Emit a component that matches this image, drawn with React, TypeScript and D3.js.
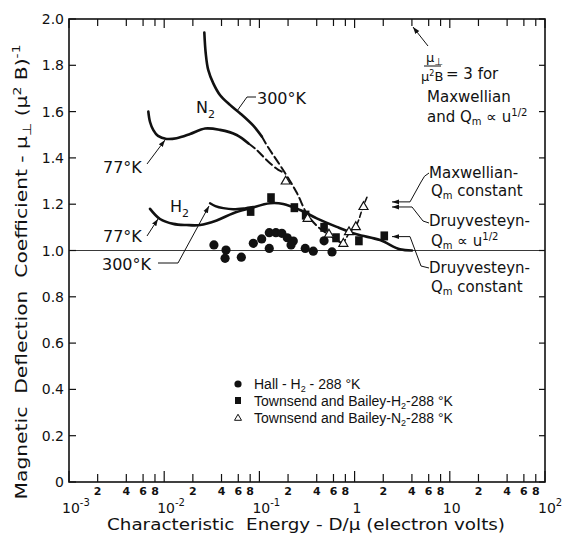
import React from 'react';
import * as d3 from 'd3';

// ---------- data ----------
const yTickValues = [0, 0.2, 0.4, 0.6, 0.8, 1.0, 1.2, 1.4, 1.6, 1.8, 2.0];
const yTickLabels = ['0', '0.2', '0.4', '0.6', '0.8', '1.0', '1.2', '1.4', '1.6', '1.8', '2.0'];
const decades = [1e-3, 1e-2, 1e-1, 1, 10, 100];
const decadeBase = ['10', '10', '10', '1', '10', '10'];
const decadeExp = ['-3', '-2', '-1', '', '', '2'];
const minorMults = [2, 4, 6, 8];

// Hall - H2 - 288 K (filled circles)
const hallX = [0.0333, 0.0446, 0.0436, 0.0646, 0.0863, 0.1057, 0.127, 0.149, 0.172, 0.196, 0.227, 0.215, 0.127, 0.303, 0.368, 0.478, 0.579];
const hallY = [1.024, 1.002, 0.966, 0.971, 1.031, 1.05, 1.077, 1.077, 1.074, 1.055, 1.041, 1.024, 1.009, 1.009, 0.997, 1.042, 0.994];

// Townsend and Bailey - H2 (filled squares)
const tbH2X = [0.0809, 0.1324, 0.233, 0.306, 0.478, 0.638, 1.11, 2.05];
const tbH2Y = [1.169, 1.228, 1.185, 1.153, 1.1, 1.055, 1.042, 1.063];

// Townsend and Bailey - N2 (open triangles)
const tbN2X = [0.189, 0.321, 0.538, 0.762, 0.873, 1.03, 1.24];
const tbN2Y = [1.3, 1.139, 1.071, 1.031, 1.081, 1.103, 1.19];

// N2 300K theory (solid part, dashed continuation)
const n2HotX = [0.0264, 0.0273, 0.029, 0.0328, 0.0385, 0.0491, 0.0625, 0.0863, 0.106];
const n2HotY = [1.941, 1.852, 1.78, 1.722, 1.672, 1.629, 1.593, 1.539, 1.492];
const n2HotDashX = [0.106, 0.123, 0.186, 0.248, 0.316, 0.403, 0.538, 0.755];
const n2HotDashY = [1.492, 1.447, 1.335, 1.248, 1.158, 1.106, 1.067, 1.028];
const n2RiseX = [0.755, 0.895, 1.035, 1.225, 1.35];
const n2RiseY = [1.028, 1.08, 1.106, 1.188, 1.231];

// N2 77K theory
const n2ColdX = [0.00681, 0.0071, 0.00769, 0.00861, 0.0106, 0.0135, 0.0187, 0.0269, 0.0385, 0.0577, 0.0764];
const n2ColdY = [1.6, 1.555, 1.52, 1.495, 1.482, 1.485, 1.503, 1.527, 1.521, 1.499, 1.463];
const n2ColdDashX = [0.0764, 0.0937, 0.119, 0.158, 0.186];
const n2ColdDashY = [1.463, 1.434, 1.391, 1.348, 1.335];

// H2 77K theory (continues to high energy)
const h2ColdX = [0.0071, 0.00904, 0.01247, 0.0172, 0.0238, 0.0356, 0.0532, 0.0796, 0.129, 0.178, 0.267, 0.4, 0.649, 1.05, 1.85, 3.0, 4.0];
const h2ColdY = [1.18, 1.136, 1.115, 1.11, 1.11, 1.13, 1.161, 1.182, 1.204, 1.201, 1.175, 1.139, 1.102, 1.07, 1.045, 1.005, 1.0];

// H2 300K theory branch
const h2HotX = [0.0303, 0.0345, 0.0418, 0.053, 0.07, 0.0863];
const h2HotY = [1.204, 1.192, 1.183, 1.178, 1.182, 1.188];

// high-energy asymptotes (arrows on right)
const asymptoteValues = [1.21, 1.188, 1.06];

// ---------- layout ----------
const W = 562;
const H = 534;
const L = 69, R = 545, T = 19, B = 482;
const F = "'DejaVu Sans', sans-serif";
const FL = "'Liberation Sans', Arial, sans-serif";

const x = d3.scaleLog().domain([1e-3, 1e2]).range([L, R]);
const y = d3.scaleLinear().domain([0, 2]).range([B, T]);

const zip = (xs: number[], ys: number[]) => xs.map((v, i) => [v, ys[i]] as [number, number]);
const line = d3
  .line<[number, number]>()
  .x((d) => x(d[0]))
  .y((d) => y(d[1]))
  .curve(d3.curveCatmullRom.alpha(0.5));

const minorTicks: number[] = [];
decades.slice(0, -1).forEach((d) => minorMults.forEach((m) => minorTicks.push(d * m)));

const tri = (cx: number, cy: number, s: number) => {
  const h = s * 0.866;
  return `M${cx},${cy - h * 0.62} L${cx + s / 2},${cy + h * 0.38} L${cx - s / 2},${cy + h * 0.38} Z`;
};

export default function App() {
  return (
    <svg
      width={W}
      height={H}
      style={{ position: 'absolute', left: 0, top: 0, background: 'white' }}
    >
      <defs>
        <marker id="ah" viewBox="0 0 10 10" refX="10" refY="5" markerWidth="7" markerHeight="7" orient="auto" markerUnits="userSpaceOnUse">
          <path d="M0,1.5 L10,5 L0,8.5 Z" fill="#111" />
        </marker>
      </defs>

      {/* frame */}
      <rect x={L} y={T} width={R - L} height={B - T} fill="none" stroke="#111" strokeWidth={1.6} />
      {/* reference line at 1.0 */}
      <line x1={L} x2={R} y1={y(1)} y2={y(1)} stroke="#222" strokeWidth={0.9} />

      {/* y ticks */}
      {yTickValues.map((v, i) => (
        <g key={'yt' + i}>
          <line x1={L} x2={L + 7} y1={y(v)} y2={y(v)} stroke="#111" strokeWidth={1.2} />
          <line x1={R} x2={R - 6} y1={y(v)} y2={y(v)} stroke="#111" strokeWidth={1.2} />
          <text x={64} y={y(v) + 5} textAnchor="end" fontFamily={F} fontSize={14} fill="#111">
            {yTickLabels[i]}
          </text>
        </g>
      ))}

      {/* x ticks */}
      {minorTicks.map((v, i) => (
        <g key={'mt' + i}>
          <line x1={x(v)} x2={x(v)} y1={B} y2={B - 8} stroke="#111" strokeWidth={1.2} />
          <line x1={x(v)} x2={x(v)} y1={T} y2={T + 7} stroke="#111" strokeWidth={1.2} />
          <text x={x(v)} y={495} textAnchor="middle" fontFamily={F} fontSize={11} fontWeight="bold" fill="#111">
            {minorMults[i % 4]}
          </text>
        </g>
      ))}
      {decades.map((v, i) => (
        <g key={'dt' + i}>
          <line x1={x(v)} x2={x(v)} y1={B} y2={B - 11} stroke="#111" strokeWidth={1.2} />
          <line x1={x(v)} x2={x(v)} y1={T} y2={T + 9} stroke="#111" strokeWidth={1.2} />
          <text x={x(v) - (decadeBase[i] === '1' ? 2 : 7)} y={513} fontFamily={F} fontSize={14} fill="#111">
            {decadeBase[i]}
            {decadeExp[i] && (
              <tspan dy={-7} fontSize={10}>
                {decadeExp[i]}
              </tspan>
            )}
          </text>
        </g>
      ))}

      {/* axis titles */}
      <text
        x={306}
        y={530}
        textAnchor="middle"
        fontFamily={F}
        fontSize={16}
        fill="#111"
        textLength={398}
        lengthAdjust="spacingAndGlyphs"
        style={{ whiteSpace: 'pre' }}
      >
        {'Characteristic  Energy - D/\u03bc (electron volts)'}
      </text>
      <text
        transform="translate(27,272) rotate(-90)"
        textAnchor="middle"
        fontFamily={F}
        fontSize={16}
        fill="#111"
        textLength={455}
        lengthAdjust="spacingAndGlyphs"
        style={{ whiteSpace: 'pre' }}
      >
        {'Magnetic  Deflection  Coefficient - \u03bc'}
        <tspan dy={4} fontSize={12}>{'\u22a5'}</tspan>
        <tspan dy={-4}>{' (\u03bc'}</tspan>
        <tspan dy={-6} fontSize={11}>2</tspan>
        <tspan dy={6}>{' B)'}</tspan>
        <tspan dy={-7} fontSize={11}>-1</tspan>
      </text>

      {/* theory curves */}
      <g fill="none" stroke="#111" strokeLinecap="round">
        <path d={line(zip(n2HotX, n2HotY)) || ''} strokeWidth={2.6} />
        <path d={line(zip(n2HotDashX, n2HotDashY)) || ''} strokeWidth={2} strokeDasharray="8 4" />
        <path d={line(zip(n2RiseX, n2RiseY)) || ''} strokeWidth={1.6} strokeDasharray="5 3" />
        <path d={line(zip(n2ColdX, n2ColdY)) || ''} strokeWidth={2.6} />
        <path d={line(zip(n2ColdDashX, n2ColdDashY)) || ''} strokeWidth={2} strokeDasharray="8 4" />
        <path d={line(zip(h2ColdX, h2ColdY)) || ''} strokeWidth={2.6} />
        <path d={line(zip(h2HotX, h2HotY)) || ''} strokeWidth={2.4} />
      </g>

      {/* data points */}
      {hallX.map((v, i) => (
        <circle key={'h' + i} cx={x(v)} cy={y(hallY[i])} r={4.6} fill="#111" />
      ))}
      {tbH2X.map((v, i) => (
        <rect key={'s' + i} x={x(v) - 3.8} y={y(tbH2Y[i]) - 4.5} width={7.6} height={9} fill="#111" />
      ))}
      {tbN2X.map((v, i) => (
        <path key={'t' + i} d={tri(x(v), y(tbN2Y[i]), 9)} fill="white" stroke="#111" strokeWidth={1.2} />
      ))}

      {/* curve labels */}
      <g fontFamily={F} fontSize={16} fill="#111">
        <text x={196} y={113}>
          N<tspan dy={5} fontSize={11}>2</tspan>
        </text>
        <text x={257} y={104}>300°K</text>
        <text x={103} y={173}>77°K</text>
        <text x={170} y={212}>
          H<tspan dy={5} fontSize={11}>2</tspan>
        </text>
        <text x={103} y={242}>77°K</text>
        <text x={102} y={270}>300°K</text>
      </g>

      {/* leaders */}
      <g fill="none" stroke="#111" strokeWidth={1}>
        <path d="M256,97 L247,97 L237,111" />
        <path d="M147,164 L165,140" markerEnd="url(#ah)" />
        <path d="M147,236 L158,219" markerEnd="url(#ah)" />
        <path d="M158,263 L178,263 L209,206" markerEnd="url(#ah)" />
        <path d="M428,46 L413,27" markerEnd="url(#ah)" />
        {asymptoteValues.map((v, i) => (
          <path key={'as' + i} d={`M${410 + (i === 1 ? 2 : 0)},${y(v)} L392,${y(v)}`} markerEnd="url(#ah)" />
        ))}
        <path d={`M410,${y(asymptoteValues[0])} L421,182 Q424,175 429,173`} />
        <path d={`M412,${y(asymptoteValues[1])} L423,221 L429,223`} />
        <path d={`M410,${y(asymptoteValues[2])} L421,266 L429,268`} />
      </g>

      {/* right-side annotations */}
      <g fontFamily={F} fontSize={15} fill="#111">
        <text x={426} y={62} fontSize={13}>
          μ<tspan dy={3} fontSize={10}>⊥</tspan>
        </text>
        <line x1={424} x2={441} y1={66} y2={66} stroke="#111" strokeWidth={1} />
        <text x={421} y={81} fontSize={13}>
          μ<tspan dy={-5} fontSize={8}>2</tspan>
          <tspan dy={5}>B</tspan>
        </text>
        <text x={446} y={79}>= 3 for</text>
        <text x={427} y={102}>Maxwellian</text>
        <text x={427} y={122}>
          and Q<tspan dy={3} fontSize={10}>m</tspan>
          <tspan dy={-3}> ∝ u</tspan>
          <tspan dy={-6} fontSize={10}>1/2</tspan>
        </text>
        <text x={429} y={178}>Maxwellian-</text>
        <text x={431} y={196}>
          Q<tspan dy={3} fontSize={10}>m</tspan>
          <tspan dy={-3}> constant</tspan>
        </text>
        <text x={429} y={226}>Druyvesteyn-</text>
        <text x={431} y={246}>
          Q<tspan dy={3} fontSize={10}>m</tspan>
          <tspan dy={-3}> ∝ u</tspan>
          <tspan dy={-6} fontSize={10}>1/2</tspan>
        </text>
        <text x={429} y={273}>Druyvesteyn-</text>
        <text x={431} y={292}>
          Q<tspan dy={3} fontSize={10}>m</tspan>
          <tspan dy={-3}> constant</tspan>
        </text>
      </g>

      {/* legend */}
      <g fontFamily={FL} fontSize={14} fill="#111">
        <circle cx={238} cy={384} r={3.6} fill="#111" />
        <text x={254} y={389}>
          Hall - H<tspan dy={3} fontSize={9}>2</tspan>
          <tspan dy={-3}> - 288 °K</tspan>
        </text>
        <rect x={235} y={397} width={6} height={7} fill="#111" />
        <text x={254} y={406}>
          Townsend and Bailey-H<tspan dy={3} fontSize={9}>2</tspan>
          <tspan dy={-3}>-288 °K</tspan>
        </text>
        <path d={tri(238, 418, 7)} fill="white" stroke="#111" strokeWidth={1} />
        <text x={254} y={423}>
          Townsend and Bailey-N<tspan dy={3} fontSize={9}>2</tspan>
          <tspan dy={-3}>-288 °K</tspan>
        </text>
      </g>
    </svg>
  );
}
